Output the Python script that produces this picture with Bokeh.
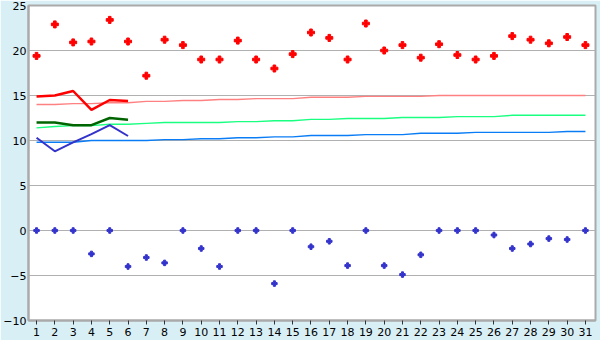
from bokeh.plotting import figure
from bokeh.models import Range1d, FixedTicker
from bokeh.embed import file_html
from bokeh.resources import INLINE

days = list(range(1, 32))

# daily maximum (red points) and minimum (blue points)
tmax = [19.4, 22.9, 20.9, 21.0, 23.4, 21.0, 17.2, 21.2, 20.6, 19.0,
        19.0, 21.1, 19.0, 18.0, 19.6, 22.0, 21.4, 19.0, 23.0, 20.0,
        20.6, 19.2, 20.7, 19.5, 19.0, 19.4, 21.6, 21.2, 20.8, 21.5, 20.6]
tmin = [0.0, 0.0, 0.0, -2.6, 0.0, -4.0, -3.0, -3.6, 0.0, -2.0,
        -4.0, 0.0, 0.0, -5.9, 0.0, -1.8, -1.2, -3.9, 0.0, -3.9,
        -4.9, -2.7, 0.0, 0.0, 0.0, -0.5, -2.0, -1.5, -0.9, -1.0, 0.0]

# running values (first 6 days)
run_days = [1, 2, 3, 4, 5, 6]
run_red = [14.9, 15.0, 15.5, 13.4, 14.5, 14.4]
run_green = [12.0, 12.0, 11.7, 11.7, 12.5, 12.3]
run_blue = [10.3, 8.8, 9.8, 10.7, 11.7, 10.5]

# normals
norm_max = [14.0, 14.0, 14.1, 14.1, 14.2, 14.2, 14.35, 14.35, 14.45, 14.45,
            14.55, 14.55, 14.65, 14.65, 14.65, 14.8, 14.8, 14.8, 14.9, 14.9,
            14.9, 14.9, 15.0, 15.0, 15.0, 15.0, 15.0, 15.0, 15.0, 15.0, 15.0]
norm_mean = [11.4, 11.55, 11.65, 11.65, 11.8, 11.8, 11.9, 12.0, 12.0, 12.0,
             12.0, 12.1, 12.1, 12.2, 12.2, 12.35, 12.35, 12.45, 12.45, 12.45,
             12.55, 12.55, 12.55, 12.65, 12.65, 12.65, 12.8, 12.8, 12.8, 12.8, 12.8]
norm_min = [9.8, 9.8, 9.8, 10.0, 10.0, 10.0, 10.0, 10.1, 10.1, 10.2,
            10.2, 10.3, 10.3, 10.4, 10.4, 10.55, 10.55, 10.55, 10.65, 10.65,
            10.65, 10.8, 10.8, 10.8, 10.9, 10.9, 10.9, 10.9, 10.9, 11.0, 11.0]

y_ticks = [-10, -5, 0, 5, 10, 15, 20, 25]

p = figure(width=600, height=340, output_backend="svg", toolbar_location=None,
           x_range=Range1d(0.56, 31.55), y_range=Range1d(-10, 25),
           min_border_left=27, min_border_right=5, min_border_top=5,
           min_border_bottom=20)

p.border_fill_color = "#d9eff6"
p.background_fill_color = "white"
p.outline_line_color = "#aaaaaa"
p.outline_line_width = 2

p.xgrid.visible = False
p.ygrid.ticker = FixedTicker(ticks=y_ticks)
p.ygrid.grid_line_color = "#b0b0b0"
p.ygrid.grid_line_width = 1

for ax in (p.xaxis[0], p.yaxis[0]):
    ax.axis_line_color = "#aaaaaa"
    ax.axis_line_width = 2
    ax.major_label_text_font = "DejaVu Sans"
    ax.major_label_text_font_size = "11px"
    ax.major_label_text_color = "#000000"
    ax.minor_tick_line_color = None

p.xaxis.ticker = FixedTicker(ticks=days)
p.xaxis.major_tick_line_color = "#333333"
p.xaxis.major_tick_out = 4
p.xaxis.major_tick_in = 0
p.xaxis.major_label_standoff = 3

p.yaxis.ticker = FixedTicker(ticks=y_ticks)
p.yaxis.major_tick_out = 0
p.yaxis.major_tick_in = 0
p.yaxis.major_label_standoff = 2

# normals
p.line(days, norm_max, line_color="#ff8080", line_width=1.4)
p.line(days, norm_mean, line_color="#19ff80", line_width=1.4)
p.line(days, norm_min, line_color="#0a7cf5", line_width=1.4)

# running lines
p.line(run_days, run_red, line_color="#ff0000", line_width=2.5)
p.line(run_days, run_green, line_color="#006400", line_width=2.5)
p.line(run_days, run_blue, line_color="#3333cc", line_width=2)

# points
p.scatter(days, tmax, marker="plus", size=7, color="#ff0000")
p.scatter(days, tmin, marker="plus", size=5.5, color="#3333cc")

open("out.html", "w").write(file_html(p, INLINE))
